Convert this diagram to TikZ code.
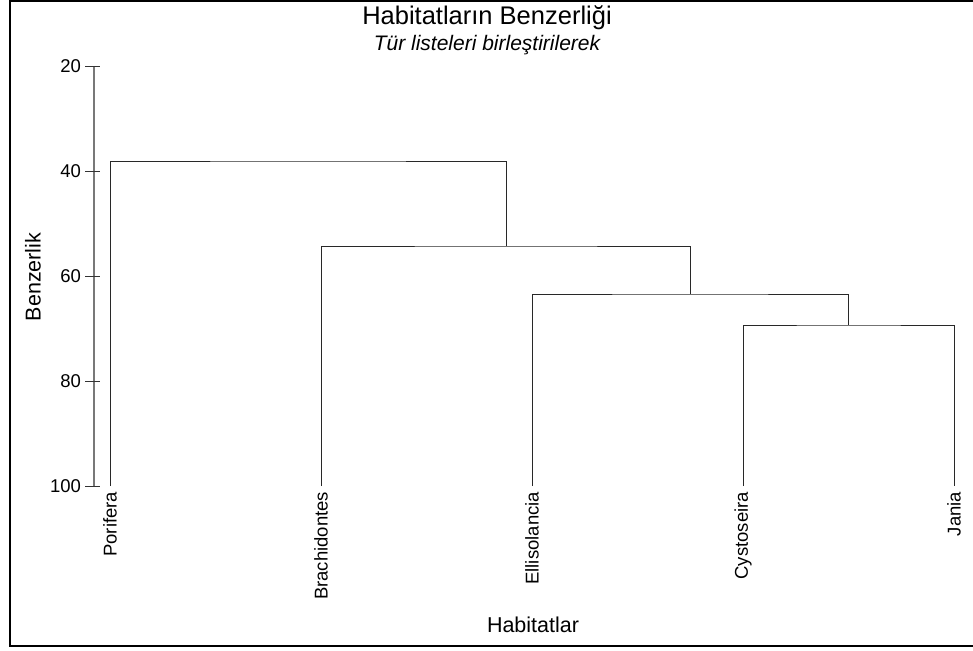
\documentclass[tikz,border=0pt]{standalone}
\usepackage{fontspec}
\setmainfont{Liberation Sans}
\usetikzlibrary{positioning}
\definecolor{axgray}{RGB}{120,120,120}
\definecolor{lnk}{RGB}{40,40,40}

\begin{document}
\begin{tikzpicture}[
      x=1pt, y=-1pt,
      every node/.style={inner sep=0pt, outer sep=0pt},
      ttl/.style={font=\fontsize{25.5}{28}\selectfont, anchor=center},
      subttl/.style={font=\fontsize{21}{24}\selectfont\itshape, anchor=center},
      axlab/.style={font=\fontsize{21.5}{24}\selectfont},
      ticklab/.style={font=\fontsize{18.5}{20}\selectfont, anchor=east},
      leaflab/.style={font=\fontsize{18.5}{20}\selectfont, rotate=90, anchor=east},
      axline/.style={axgray, line width=1.3pt},
      tickline/.style={black!80, line width=0.9pt},
      link/.style={lnk, line width=0.9pt},
  ]
    \useasboundingbox (0,0) rectangle (973,650);
    \draw[line width=2pt] (990,1) -- (10,1) -- (10,646) -- (990,646);

    % titles
    \node[ttl] (title) at (487,18) {Habitatların Benzerliği};
    \node[subttl] (subtitle) at (487,45) {Tür listeleri birleştirilerek};

    % similarity axis
    \coordinate (ytop) at (94,66);
    \coordinate (ybot) at (94,486);
    \draw[axline] (ytop) -- (ybot);
    \foreach \v in {20,40,60,80,100} {
      \draw[tickline] (85,{66+(\v-20)*5.25}) -- (100,{66+(\v-20)*5.25});
      \node[ticklab] (t\v) at (81,{66+(\v-20)*5.25}) {\v};
    }
    \node[axlab, rotate=90] (ylab) at (33,277) {Benzerlik};
    \node[axlab] (xlab) at (533,625) {Habitatlar};

    % leaves
    \coordinate (por) at (110,486);
    \coordinate (bra) at (321,486);
    \coordinate (ell) at (532,486);
    \coordinate (cys) at (743,486);
    \coordinate (jan) at (954,486);
    \node[leaflab] (lpor) at (110,492) {Porifera};
    \node[leaflab] (lbra) at (321,492) {Brachidontes};
    \node[leaflab] (lell) at (532,492) {Ellisolancia};
    \node[leaflab] (lcys) at (743,492) {Cystoseira};
    \node[leaflab] (ljan) at (954,492) {Jania};

    % merges
    \coordinate (m4) at (848.5,325);
    \coordinate (m3) at (690,294);
    \coordinate (m2) at (506,246);
    \coordinate (m1) at (308,161);
    \draw[link] (cys) |- (m4) -| (jan);
    \draw[link] (ell) |- (m3) -| (m4);
    \draw[link] (bra) |- (m2) -| (m3);
    \draw[link] (por) |- (m1) -| (m2);
  \end{tikzpicture}
\end{document}
